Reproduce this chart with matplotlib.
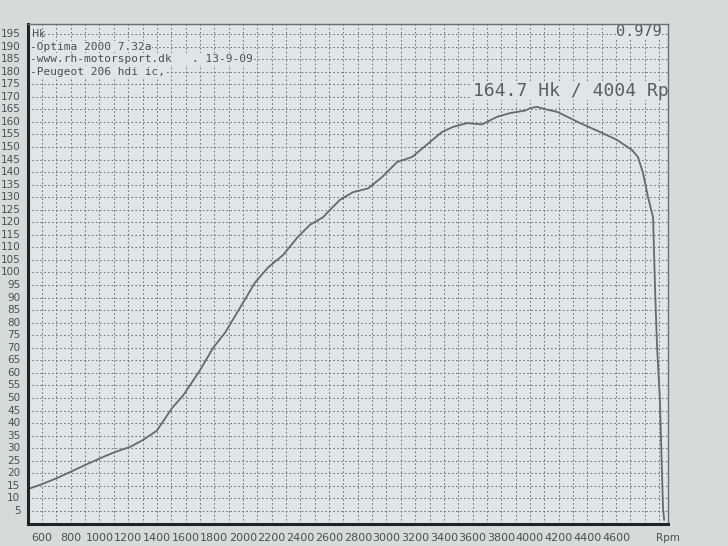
## dyno_chart.py
# recreate the Optima 2000 dyno print (Peugeot 206 hdi)

import numpy as np
import matplotlib.pyplot as plt
from matplotlib.ticker import MultipleLocator

#======= data =======#
rpm = [502, 600, 700, 795, 900, 1025, 1110, 1213, 1304, 1400, 1506, 1583,
       1700, 1792, 1875, 1980, 2084, 2175, 2280, 2380, 2467, 2558, 2607,
       2677, 2767, 2872, 2969, 3074, 3178, 3283, 3387, 3464, 3561, 3666,
       3770, 3861, 3966, 4004, 4049, 4110, 4189, 4280, 4350, 4488, 4607,
       4711, 4753, 4788, 4823, 4858, 4872, 4886, 4905, 4927, 4935]
hk = [13.7, 15.7, 18.0, 20.5, 23.3, 26.5, 28.5, 30.5, 33.3, 37.0, 46.0, 51.0,
      61.0, 70.0, 76.0, 86.0, 96.0, 102.0, 107.0, 114.0, 119.0, 122.0, 125.0,
      129.0, 132.0, 133.5, 138.0, 144.0, 146.0, 151.0, 156.0, 158.0, 159.5, 159.0,
      162.0, 163.5, 164.5, 165.5, 166.0, 165.0, 164.0, 161.5, 159.5, 156.0, 152.8,
      148.8, 146.0, 139.6, 130.0, 122.0, 93.0, 70.0, 50.0, 6.6, 1.5]

x_ticks = list(range(600, 4601, 200))
y_ticks = list(range(5, 196, 5))
header_lines = ['-Optima 2000 7.32a',
                '-www.rh-motorsport.dk   . 13-9-09',
                '-Peugeot 206 hdi ic,']
factor_text = '0.979'
peak_text = '164.7 Hk / 4004 Rpm'

INK = '#4a4f50'
PAPER = '#e0e6e5'

fig = plt.figure(figsize=(7.28, 5.46), dpi=100, facecolor='#d6dbda')
ax = fig.add_axes([28/728, 1 - 523.5/546, 640/728, 499.5/546], facecolor=PAPER)

ax.set_xlim(502, 4962)
ax.set_ylim(0, 199)

# grid every 100 rpm / 5 hk
ax.xaxis.set_major_locator(MultipleLocator(100))
ax.yaxis.set_major_locator(MultipleLocator(5))
ax.grid(True, color='#70787a', linestyle=(0, (1.6, 2.2)), linewidth=0.75)
ax.tick_params(length=0, labelbottom=False, labelleft=False)

for s in ['left', 'bottom']:
    ax.spines[s].set_linewidth(2.2)
    ax.spines[s].set_color('#202424')
for s in ['top', 'right']:
    ax.spines[s].set_linewidth(1.0)
    ax.spines[s].set_color('#6a6f70')
for s in ax.spines.values():
    s.set_zorder(6)

ax.plot(rpm, hk, color='#656a6b', linewidth=1.3, zorder=3)

# tick labels drawn as text to mimic the print
for v in y_ticks:
    ax.text(-0.012, v, str(v), transform=ax.get_yaxis_transform(),
            ha='right', va='center', fontsize=7.5, color=INK)
for v in x_ticks:
    ax.text(v, -0.02, str(v), transform=ax.get_xaxis_transform(),
            ha='center', va='top', fontsize=8, color=INK)
ax.text(4960, -0.02, 'Rpm', transform=ax.get_xaxis_transform(),
        ha='center', va='top', fontsize=7.5, color=INK)

ax.text(0.006, 0.99, 'Hk', transform=ax.transAxes, ha='left', va='top',
        fontsize=7, color=INK)

for i, line in enumerate(header_lines):
    ax.text(0.003, 190 - 5 * i, line, transform=ax.get_yaxis_transform(),
            ha='left', va='center', fontsize=8, family='DejaVu Sans Mono',
            color=INK, zorder=4,
            bbox=dict(facecolor=PAPER, edgecolor='none', pad=0.5))

ax.text(0.99, 196, factor_text, transform=ax.get_yaxis_transform(),
        ha='right', va='center', fontsize=11, family='DejaVu Sans Mono',
        color='#55595a', zorder=4,
        bbox=dict(facecolor=PAPER, edgecolor='none', pad=0.3))

ax.text(0.695, 172.5, peak_text, transform=ax.get_yaxis_transform(),
        ha='left', va='center', fontsize=13, family='DejaVu Sans Mono',
        color='#5a5e5f', zorder=4, clip_on=True,
        bbox=dict(facecolor=PAPER, edgecolor='none', pad=0.5))

fig.savefig('out.png', dpi=100, facecolor=fig.get_facecolor())
